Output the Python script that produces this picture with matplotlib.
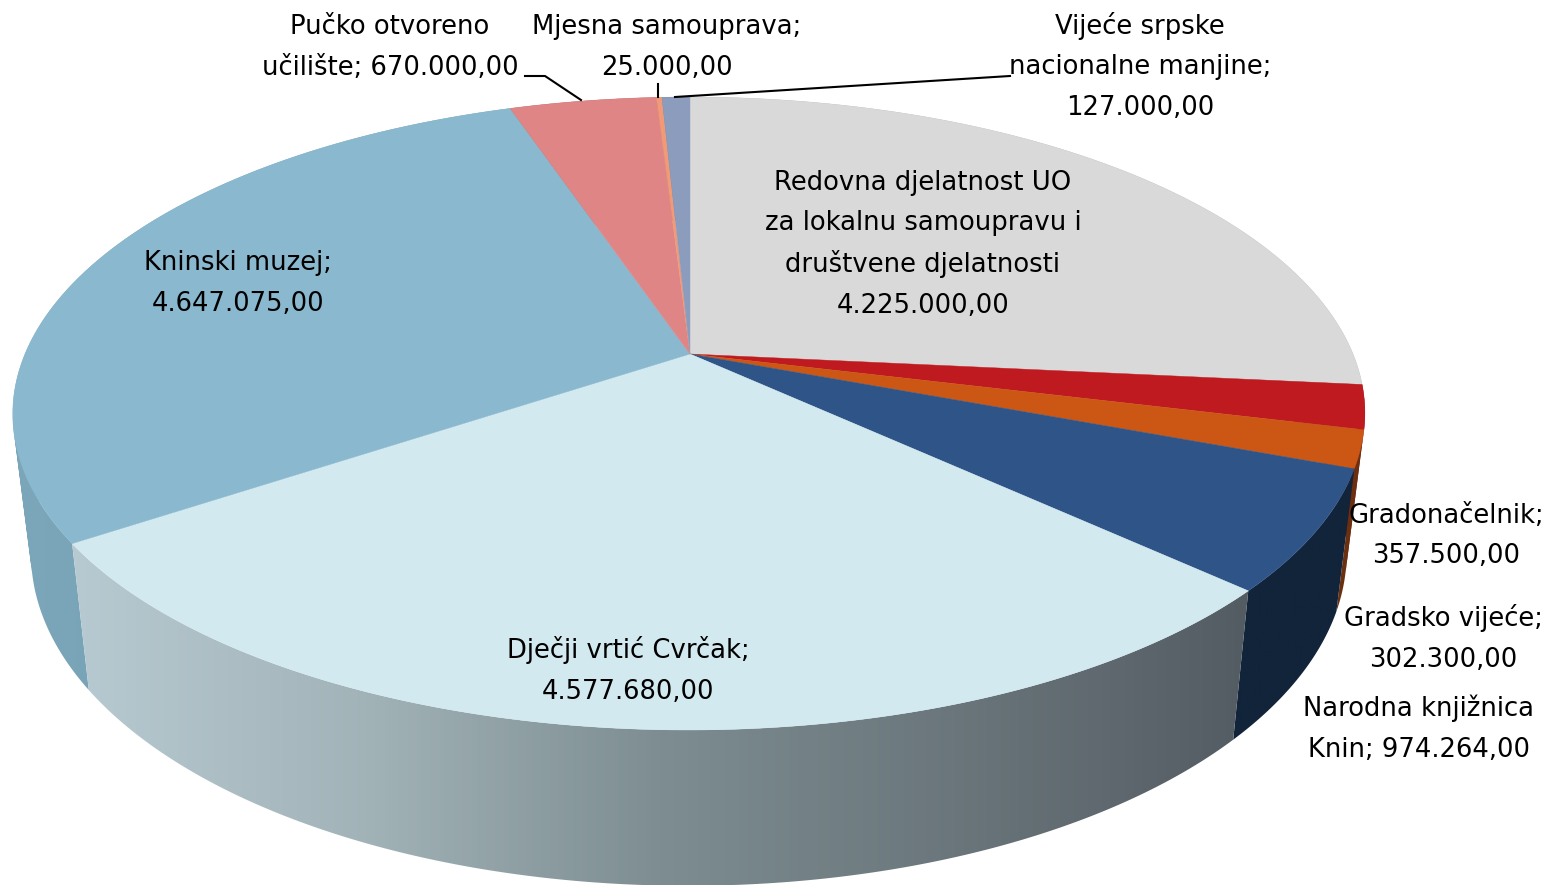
import numpy as np
import matplotlib
matplotlib.use('Agg')
import matplotlib.pyplot as plt
from matplotlib.colors import LinearSegmentedColormap
from matplotlib.patches import PathPatch
from matplotlib.path import Path

# Budget per user, clockwise from 12 o'clock
names = ['Redovna', 'Gradonačelnik', 'Gradsko vijeće', 'Narodna knjižnica', 'Dječji vrtić',
         'Kninski muzej', 'Pučko učilište', 'Mjesna samouprava', 'Vijeće srpske']
values = [4225000.00, 357500.00, 302300.00, 974264.00, 4577680.00,
          4647075.00, 670000.00, 25000.00, 127000.00]
top_colors = ['#d9d9d9', '#bf1a20', '#cc5714', '#2f5588', '#d2e9f0',
              '#8ab8ce', '#e08585', '#f09a78', '#8b9cbd']
wall_stops = [['#a0a0a0', '#a0a0a0'], ['#7a1014', '#7a1014'], ['#6b3010', '#6b3010'],
              ['#12243a', '#12243a'], ['#b7cad1', '#a2b3b8', '#7d8d91', '#6a767b', '#545c63'],
              ['#7ca6b9', '#6c9bb0'], ['#8a5050', '#8a5050'], ['#8a5a46', '#8a5a46'],
              ['#55607a', '#55607a']]

# text lines of each label, the amount goes in {}
label_lines = [['Redovna djelatnost UO', 'za lokalnu samoupravu i', 'društvene djelatnosti', '{}'],
               ['Gradonačelnik;', '{}'],
               ['Gradsko vijeće;', '{}'],
               ['Narodna knjižnica', 'Knin; {}'],
               ['Dječji vrtić Cvrčak;', '{}'],
               ['Kninski muzej;', '{}'],
               ['Pučko otvoreno', 'učilište; {}'],
               ['Mjesna samouprava;', '{}'],
               ['Vijeće srpske', 'nacionalne manjine;', '{}']]
label_x = [923, 1446, 1443, 1419, 628, 238, 390, 667, 1140]
label_y = [181, 514, 617, 707, 650, 261, 25, 25, 25]

# perspective of the pie, in pixels
cx, cy = 690, 354
k = 0.188
A, B = 664, 305.3


def top_xy(t):
    w = 1 + k * np.cos(t)
    return cx - 1 + A * np.sin(t) / w + np.cos(t) * 1, cy - B * np.cos(t) / w


def bottom_xy(t):
    x, y = top_xy(t)
    return cx + (x - cx) * 0.973, y + 137 + 0.05 * (y - cy)


def money(v):
    return f'{v:,.2f}'.replace(',', ' ').replace('.', ',').replace(' ', '.')


def quad_path(a, b, c, d):
    # same winding for every quad, otherwise the fold at the silhouette cancels out
    pts = np.array([a, b, c, d])
    area = np.sum(pts[:, 0] * np.roll(pts[:, 1], -1) - np.roll(pts[:, 0], -1) * pts[:, 1])
    if area < 0:
        pts = pts[::-1]
    return Path(np.vstack([pts, pts[0]]), closed=True)


fig = plt.figure(figsize=(15.49, 8.85), dpi=100)
ax = fig.add_axes([0, 0, 1, 1])

edges = np.cumsum([0] + values) / sum(values) * 2 * np.pi

# side walls first, those nearest the viewer last
for i in [0, 8, 7, 6, 1, 2, 3, 5, 4]:
    t = np.linspace(edges[i], edges[i + 1], 200)
    x1, y1 = top_xy(t)
    x2, y2 = bottom_xy(t)
    quads = []
    for j in range(len(t) - 1):
        quads.append(quad_path((x1[j], y1[j]), (x1[j + 1], y1[j + 1]),
                               (x2[j + 1], y2[j + 1]), (x2[j], y2[j])))
    patch = PathPatch(Path.make_compound_path(*quads), facecolor='none', edgecolor='none')
    ax.add_patch(patch)
    cmap = LinearSegmentedColormap.from_list('wall%d' % i, wall_stops[i])
    im = ax.imshow(np.linspace(0, 1, 256).reshape(1, -1), cmap=cmap, aspect='auto',
                   extent=[min(x1.min(), x2.min()), max(x1.max(), x2.max()),
                           max(y1.max(), y2.max()), min(y1.min(), y2.min())])
    im.set_clip_path(patch)

# top faces
for i in range(len(values)):
    t = np.linspace(edges[i], edges[i + 1], 300)
    x, y = top_xy(t)
    ax.fill(np.r_[cx, x], np.r_[cy, y], color=top_colors[i], lw=0.3)

# leader lines
ax.plot([525, 545, 581], [76, 76, 100], color='black', lw=1.5)
ax.plot([658, 658], [84, 97], color='black', lw=1.5)
ax.plot([1010, 675], [76, 97], color='black', lw=1.5)

for i, lines in enumerate(label_lines):
    for j, line in enumerate(lines):
        ax.text(label_x[i], label_y[i] + 8.5 + j * 41, line.format(money(values[i])),
                ha='center', va='baseline', fontsize=18.6, color='black',
                family='DejaVu Sans')

ax.set_xlim(0, 1549)
ax.set_ylim(885, 0)
ax.axis('off')
fig.savefig('out.png', dpi=100)
